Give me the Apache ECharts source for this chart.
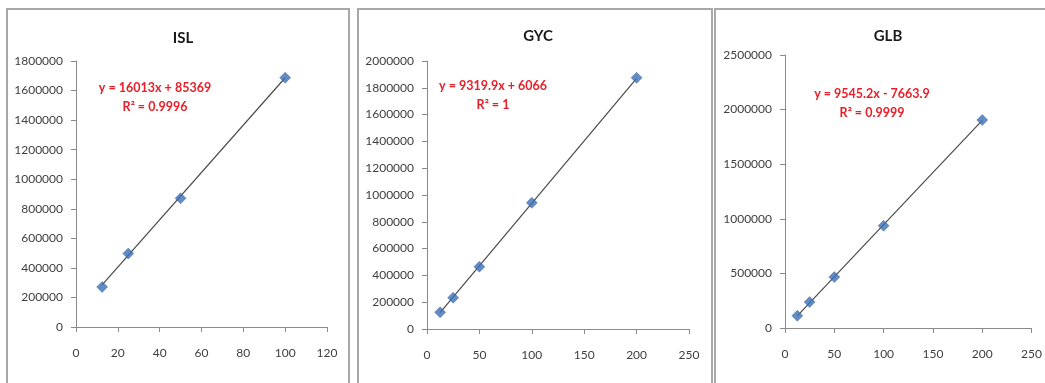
<!DOCTYPE html>
<html>
<head>
<meta charset="utf-8">
<script src="https://cdn.jsdelivr.net/npm/echarts@6/dist/echarts.min.js"></script>
<style>
  html, body { margin: 0; padding: 0; background: #fff; }
  #chart { width: 1045px; height: 383px; }
</style>
</head>
<body>
<div id="chart"></div>
<script>
// Calibration data for three analytes
const panelNames = ['ISL', 'GYC', 'GLB'];

const islConc = [12.5, 25, 50, 100];
const islArea = [271000, 497000, 871000, 1687000];

const gycConc = [12.5, 25, 50, 100, 200];
const gycArea = [125000, 234000, 465000, 942000, 1875000];

const glbConc = [12.5, 25, 50, 100, 200];
const glbArea = [112000, 238000, 466000, 936000, 1905000];

// Linear fit coefficients and R² as reported on each panel
const fitSlope = [16013, 9319.9, 9545.2];
const fitIntercept = [85369, 6066, -7663.9];
const fitR2 = ['0.9996', '1', '0.9999'];

// Axis ranges
const xMax = [120, 250, 250];
const xInterval = [20, 50, 50];
const yMax = [1800000, 2000000, 2500000];
const yInterval = [200000, 200000, 500000];

const concs = [islConc, gycConc, glbConc];
const areas = [islArea, gycArea, glbArea];

const FONT = 'Lato, "Open Sans", sans-serif';

const grids = [
  { left: 76, top: 61, width: 251, height: 266 },
  { left: 427, top: 61, width: 262, height: 268 },
  { left: 785, top: 55, width: 253, height: 273 }
];
const titlePos = [[178, 26], [533, 24], [883, 24]];
const eqPos = [[155, 97], [493, 95], [872, 103]];

function fmtEq(i) {
  const b = fitIntercept[i];
  const sign = b < 0 ? ' - ' : ' + ';
  return 'y = ' + fitSlope[i] + 'x' + sign + Math.abs(b);
}

const xAxes = [], yAxes = [], series = [], titles = [], graphics = [];

// Panel frames
const frames = [[7, 9, 342, 390], [358, 9, 354, 390], [715, 9, 340, 390]];
frames.forEach(f => {
  graphics.push({
    type: 'rect', shape: { x: f[0], y: f[1], width: f[2], height: f[3] },
    style: { fill: '#fff', stroke: '#a8a8a8', lineWidth: 2 }, z: -10
  });
});

for (let i = 0; i < 3; i++) {
  xAxes.push({
    type: 'value', gridIndex: i, min: 0, max: xMax[i], interval: xInterval[i],
    splitLine: { show: false },
    axisLine: { onZero: false, lineStyle: { color: '#8a8a8a', width: 1 } },
    axisTick: { show: true, length: 5, lineStyle: { color: '#8a8a8a' } },
    axisLabel: { margin: 20, color: '#404040', fontSize: 12, fontFamily: FONT,
      formatter: v => String(v) }
  });
  yAxes.push({
    type: 'value', gridIndex: i, min: 0, max: yMax[i], interval: yInterval[i],
    splitLine: { show: false },
    axisLine: { show: true, lineStyle: { color: '#8a8a8a', width: 1 } },
    axisTick: { show: true, length: 5, lineStyle: { color: '#8a8a8a' } },
    axisLabel: { margin: 13, color: '#404040', fontSize: 12, fontFamily: FONT,
      formatter: v => String(v) }
  });

  const xs = concs[i];
  const x0 = Math.min.apply(null, xs), x1 = Math.max.apply(null, xs);
  series.push({
    type: 'line', xAxisIndex: i, yAxisIndex: i,
    data: [[x0, fitSlope[i] * x0 + fitIntercept[i]], [x1, fitSlope[i] * x1 + fitIntercept[i]]],
    showSymbol: false, symbol: 'none', silent: true,
    lineStyle: { color: '#4a4a4a', width: 1.2 }, z: 2
  });
  series.push({
    type: 'scatter', xAxisIndex: i, yAxisIndex: i,
    data: xs.map((x, k) => [x, areas[i][k]]),
    symbol: 'diamond', symbolSize: 11,
    itemStyle: { color: '#3d6fb5', borderColor: '#2f5c9c', borderWidth: 0.5 }, z: 3
  });

  titles.push({
    text: panelNames[i], left: titlePos[i][0], top: titlePos[i][1], textAlign: 'center',
    textStyle: { fontSize: 15, fontWeight: 'bold', color: '#1a1a1a', fontFamily: FONT }
  });

  graphics.push({
    type: 'text', x: eqPos[i][0], y: eqPos[i][1],
    style: {
      text: fmtEq(i) + '\nR² = ' + fitR2[i],
      align: 'center', verticalAlign: 'middle', lineHeight: 19,
      fill: '#e8202a', font: 'bold 12.5px ' + FONT
    }, z: 10
  });
}

const chart = echarts.init(document.getElementById('chart'));
chart.setOption({
  backgroundColor: '#fff',
  animation: false,
  title: titles,
  grid: grids,
  xAxis: xAxes,
  yAxis: yAxes,
  series: series,
  graphic: graphics
});
</script>
</body>
</html>
